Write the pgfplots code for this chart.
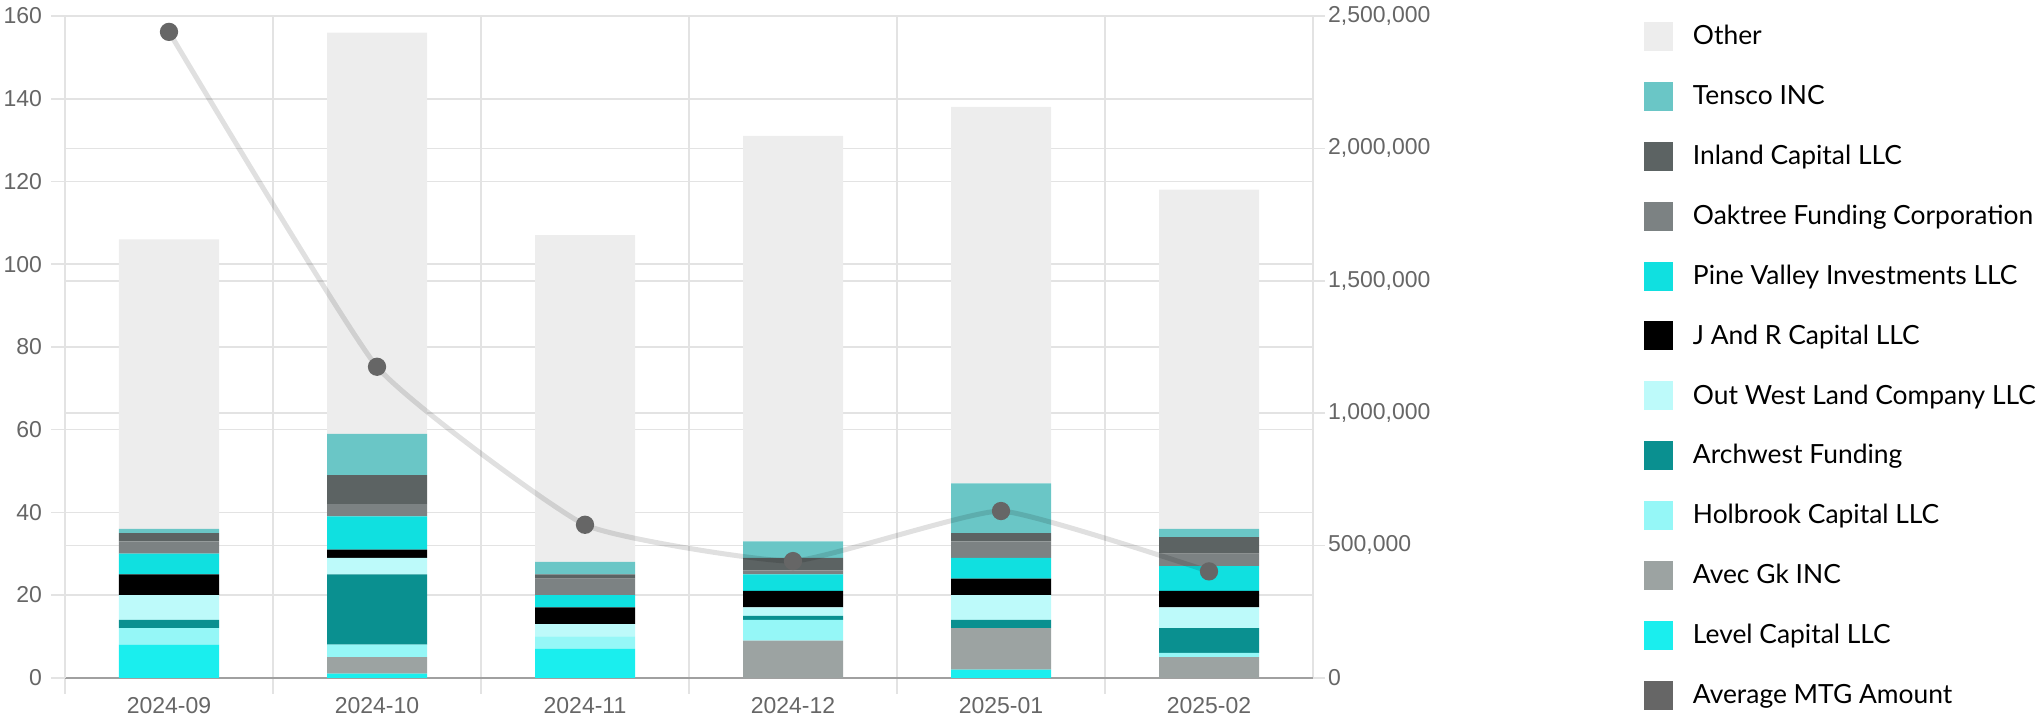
\documentclass[border=0pt]{standalone}
\usepackage{fontspec}
\setmainfont{Liberation Sans}
\newfontfamily\legfont{Lato}
\usepackage{pgfplots}
\usepackage{pgfplotstable}
\pgfplotsset{compat=1.18}

\definecolor{cOther}{HTML}{EDEDED}
\definecolor{cTen}{HTML}{6AC6C6}
\definecolor{cInl}{HTML}{5C6363}
\definecolor{cOak}{HTML}{7C8283}
\definecolor{cPV}{HTML}{10E0E0}
\definecolor{cJR}{HTML}{000000}
\definecolor{cOW}{HTML}{BDFAFA}
\definecolor{cArch}{HTML}{0A9090}
\definecolor{cHolb}{HTML}{95F7F7}
\definecolor{cAvec}{HTML}{9CA3A2}
\definecolor{cLevel}{HTML}{1AEEEE}
\definecolor{cAvg}{HTML}{666666}
\definecolor{gridc}{HTML}{E3E3E3}
\definecolor{axisc}{HTML}{A0A0A0}
\definecolor{tickc}{HTML}{666666}

\pgfplotstableread{
x Level Avec Holb Arch OW JR PV Oak Inl Ten Other Avg
0 8 0 4 2 6 5 5 3 2 1 70 2440000
1 1 4 3 17 4 2 8 3 7 10 97 1175000
2 7 0 3 0 3 4 3 4 1 3 79 578000
3 0 9 5 1 2 4 4 1 3 4 98 441000
4 2 10 0 2 6 4 5 4 2 12 91 630000
5 0 5 1 6 5 4 6 3 4 2 82 402000
}\data

\pgfplotsset{
  common/.style={
    at={(32.5pt,22.1pt)}, anchor=south west,
    scale only axis, width=624pt, height=330.9pt,
    xmin=-0.5, xmax=5.5,
    ticklabel style={font=\fontsize{11.5}{13}\selectfont, text=tickc},
    /pgf/number format/assume math mode=true,
  }
}

\begin{document}
\begin{tikzpicture}
\path[use as bounding box] (0,0) rectangle (1019pt,361pt);

% right axis with its grid (behind bars)
\begin{axis}[common,
  ymin=0, ymax=2500000,
  axis y line*=right, axis x line=none,
  ytick={0,500000,1000000,1500000,2000000,2500000},
  scaled y ticks=false,
  yticklabel style={/pgf/number format/.cd, fixed, 1000 sep={,}},
  ymajorgrids, grid style={draw=gridc, line width=0.8pt},
  y axis line style={draw=gridc, line width=0.8pt},
  tick align=outside, major tick length=6pt,
  ytick style={draw=gridc, line width=0.8pt},
  yticklabel shift=-2pt,
]
\addplot[draw=none, forget plot] coordinates {(0,0)};
\end{axis}

% bars with left axis
\begin{axis}[common,
  ymin=0, ymax=160,
  ybar stacked, bar width=50pt,
  axis y line*=left, axis x line*=bottom,
  xtick={0,1,2,3,4,5},
  xticklabels={2024-09,2024-10,2024-11,2024-12,2025-01,2025-02},
  major x tick style={draw=none},
  minor xtick={-0.5,0.5,1.5,2.5,3.5,4.5},
  xminorgrids, yminorgrids=false,
  minor x tick style={draw=gridc, line width=0.8pt},
  minor tick length=8pt,
  ytick={0,20,...,160},
  ymajorgrids, grid style={draw=gridc, line width=0.8pt},
  minor grid style={draw=gridc, line width=0.8pt},
  tick align=outside, major tick length=7pt,
  ytick style={draw=gridc, line width=0.8pt},
  y axis line style={draw=gridc, line width=0.8pt},
  x axis line style={draw=axisc, line width=1.2pt},
  xticklabel style={yshift=0.6pt},
  yticklabel shift=1pt,
]
\addplot[fill=cLevel, draw=none] table[x=x,y=Level]{\data};
\addplot[fill=cAvec, draw=none] table[x=x,y=Avec]{\data};
\addplot[fill=cHolb, draw=none] table[x=x,y=Holb]{\data};
\addplot[fill=cArch, draw=none] table[x=x,y=Arch]{\data};
\addplot[fill=cOW, draw=none] table[x=x,y=OW]{\data};
\addplot[fill=cJR, draw=none] table[x=x,y=JR]{\data};
\addplot[fill=cPV, draw=none] table[x=x,y=PV]{\data};
\addplot[fill=cOak, draw=none] table[x=x,y=Oak]{\data};
\addplot[fill=cInl, draw=none] table[x=x,y=Inl]{\data};
\addplot[fill=cTen, draw=none] table[x=x,y=Ten]{\data};
\addplot[fill=cOther, draw=none] table[x=x,y=Other]{\data};
\end{axis}

% line on top + legend
\begin{axis}[common,
  ymin=0, ymax=2500000,
  hide axis,
  legend image code/.code={\fill[#1,draw=none] (0pt,-7.25pt) rectangle (14.5pt,7.25pt);},
  legend cell align=left,
  legend style={draw=none, fill=none, at={(1.2652,0.991)}, anchor=north west,
    inner sep=0pt, outer sep=0pt, row sep=15.45pt,
    nodes={inner sep=0pt},
    font=\legfont\fontsize{13.2}{15}\selectfont,
    /tikz/every odd column/.append style={column sep=10pt}},
]
\addplot[smooth, tension=0.25, line width=2.5pt, draw=black, draw opacity=0.12,
  mark=*, mark size=3.3pt, mark options={fill=cAvg, draw=cAvg, draw opacity=1, fill opacity=1},
  forget plot] table[x=x,y=Avg]{\data};
\addlegendimage{fill=cOther}\addlegendentry{Other}
\addlegendimage{fill=cTen}\addlegendentry{Tensco INC}
\addlegendimage{fill=cInl}\addlegendentry{Inland Capital LLC}
\addlegendimage{fill=cOak}\addlegendentry{Oaktree Funding Corporation}
\addlegendimage{fill=cPV}\addlegendentry{Pine Valley Investments LLC}
\addlegendimage{fill=cJR}\addlegendentry{J And R Capital LLC}
\addlegendimage{fill=cOW}\addlegendentry{Out West Land Company LLC}
\addlegendimage{fill=cArch}\addlegendentry{Archwest Funding}
\addlegendimage{fill=cHolb}\addlegendentry{Holbrook Capital LLC}
\addlegendimage{fill=cAvec}\addlegendentry{Avec Gk INC}
\addlegendimage{fill=cLevel}\addlegendentry{Level Capital LLC}
\addlegendimage{fill=cAvg}\addlegendentry{Average MTG Amount}
\end{axis}
\end{tikzpicture}
\end{document}
